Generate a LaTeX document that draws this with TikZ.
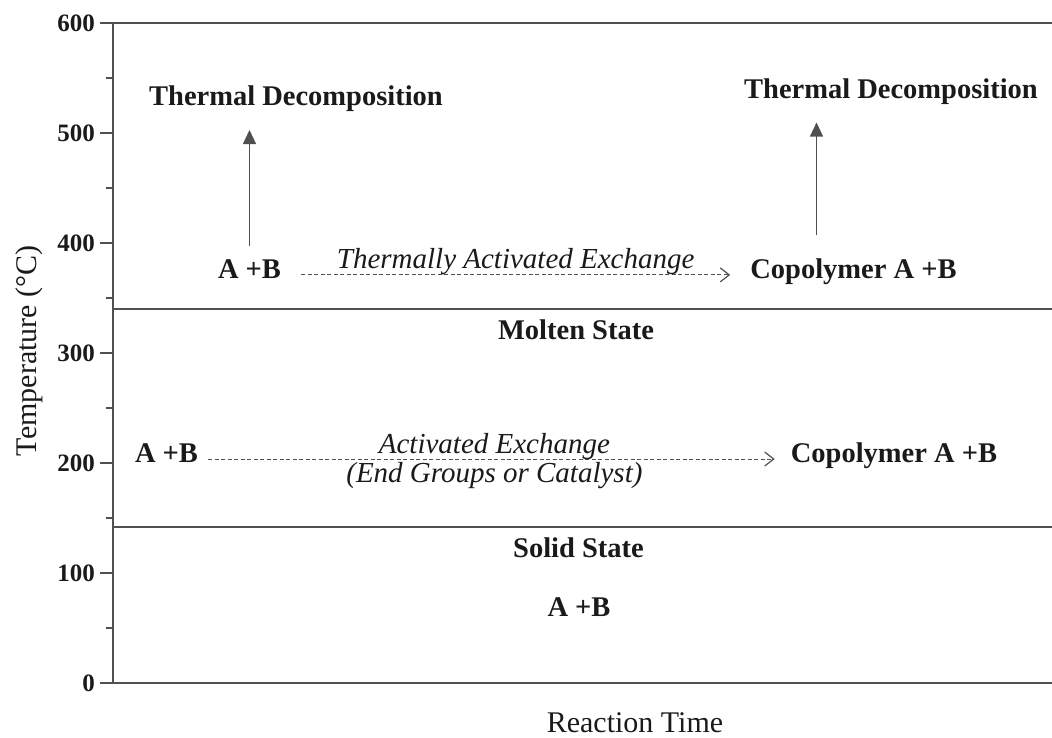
\documentclass[tikz,border=0pt]{standalone}
\usepackage{fontspec}
\setmainfont{Liberation Serif}
\usetikzlibrary{arrows.meta}
\definecolor{axis_grey}{HTML}{505050}
\definecolor{ink}{HTML}{1A1A1A}

\tikzset{
  lbl/.style={font=\fontsize{28.5}{34}\selectfont\bfseries, text=ink, inner sep=0pt, text height=0.66em, text depth=0pt},
  rxn/.style={font=\fontsize{29}{34}\selectfont\itshape, text=ink},
  ticklbl/.style={font=\fontsize{25}{30}\selectfont\bfseries, text=ink, anchor=east, inner sep=0pt},
  axlbl/.style={font=\fontsize{30}{36}\selectfont, text=ink},
  xchg/.style={draw=axis_grey, line width=1pt, dash pattern=on 4pt off 2.5pt, -{Straight Barb[length=9pt,width=14pt,line width=1.2pt]}},
  decomp/.style={draw=axis_grey, line width=1.3pt, -{Triangle[length=14pt,width=13pt]}},
  phase/.style={draw=axis_grey, line width=1.8pt},
}

\begin{document}
\begin{tikzpicture}[x=1pt, y=1.1pt]
        \useasboundingbox (-113,-50) rectangle (939,620.9);
        % Axes and frame
        \draw[phase] (0,600) -- (0,0) -- (939,0);
        \draw[phase] (-13,600) -- (939,600);
        % Ticks
        \foreach \t in {0,100,...,600} {
          \draw[axis_grey, line width=1.4pt] (-13,\t) -- (0,\t);
          \node[ticklbl] (tick\t) at (-18,\t) {\t};
        }
        \foreach \t in {50,150,...,550}
          \draw[axis_grey, line width=1.4pt] (-7,\t) -- (0,\t);
        % Axis labels
        \node[axlbl] (xlab) at (522,-36) {Reaction Time};
        \node[axlbl, rotate=90] (ylab) at (-84,302) {Temperature (°C)};
        % Phase boundaries
        \draw[phase] (0,340) -- (939,340);
        \draw[phase] (0,142) -- (939,142);
        % Molten state
        \node[lbl] (td1) at (183,527.7) {Thermal Decomposition};
        \node[lbl] (td2) at (778,534.5) {Thermal Decomposition};
        \node[lbl] (ab1) at (136.5,371) {A +B};
        \node[lbl] (cop1) at (740.5,371) {Copolymer A +B};
        \node[lbl] (ms) at (463,315.5) {Molten State};
        \draw[xchg, shorten <=20pt, shorten >=20pt] (ab1.east) -- (ab1.east -| cop1.west)
          node[rxn, midway, anchor=base, yshift=6pt] (tae) {Thermally Activated Exchange};
        \draw[decomp, shorten <=25pt, shorten >=24pt] (ab1.north) -- (ab1.north |- td1.south);
        \coordinate (up2) at ([xshift=-37pt]cop1.north);
        \draw[decomp, shorten <=36pt, shorten >=24pt] (up2) -- (up2 |- td2.south);
        % Melt / catalysed exchange
        \node[lbl] (ab2) at (53.5,203.6) {A +B};
        \node[lbl] (cop2) at (781,203.6) {Copolymer A +B};
        \draw[xchg, shorten <=10pt, shorten >=16pt] (ab2.east) -- (cop2.west)
          node[rxn, midway, anchor=base, yshift=6pt] (ae) {Activated Exchange}
          node[rxn, midway, below, inner sep=3pt] (egc) {(End Groups or Catalyst)};
        % Solid state
        \node[lbl] (ss) at (465.5,117) {Solid State};
        \node[lbl] (ab3) at (466,63) {A +B};
    \end{tikzpicture}
\end{document}
